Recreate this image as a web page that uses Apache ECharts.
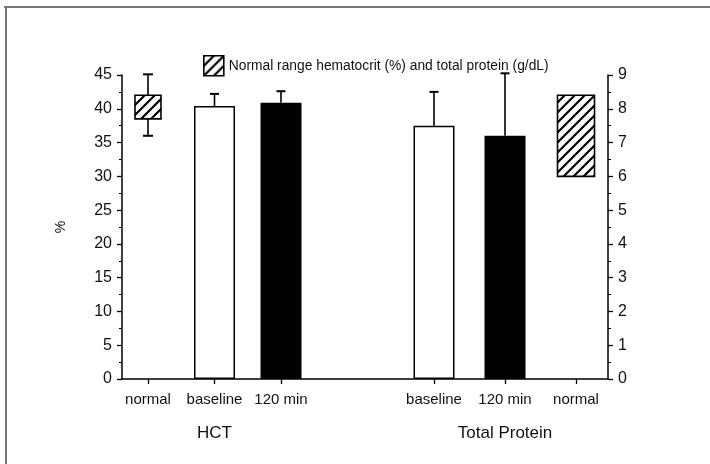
<!DOCTYPE html>
<html>
<head>
<meta charset="utf-8">
<script src="https://cdn.jsdelivr.net/npm/echarts@6/dist/echarts.min.js"></script>
<style>html,body{margin:0;padding:0;background:#fff;}#c{width:710px;height:464px;}</style>
</head>
<body>
<div id="c"></div>
<script>
// ---- data ----
const hctCategories = ['normal', 'baseline', '120 min'];
const hctMeans = [null, 40.4, 40.9];
const hctSD = [null, 1.8, 1.7];
const hctNormalBox = [38.5, 42.0];
const hctNormalWhiskers = [36.0, 45.1];

const tpCategories = ['baseline', '120 min', 'normal'];
const tpMeans = [7.5, 7.2, null];
const tpSD = [1.0, 1.85, null];
const tpNormalBox = [6.0, 8.4];

const leftTickRange = [0, 45, 5];
const rightTickRange = [0, 9, 1];
const NORMAL_NAME = 'Normal range hematocrit (%) and total protein (g/dL)';

// ---- hatch pattern ----
function makeHatch() {
  const s = 10;
  const cv = document.createElement('canvas');
  cv.width = s; cv.height = s;
  const g = cv.getContext('2d');
  g.fillStyle = '#fff'; g.fillRect(0, 0, s, s);
  g.strokeStyle = '#000'; g.lineWidth = 2.2;
  g.beginPath();
  g.moveTo(-2, s + 2); g.lineTo(s + 2, -2);
  g.moveTo(-2, 2); g.lineTo(2, -2);
  g.moveTo(s - 2, s + 2); g.lineTo(s + 2, s - 2);
  g.stroke();
  return cv;
}
const hatch = { image: makeHatch(), repeat: 'repeat' };

const FONT = 'Liberation Sans, Arial, Helvetica, sans-serif';
const INK = '#111';

function barItems(means, styles) {
  return means.map((v, i) => v == null ? null : { value: v, itemStyle: styles[i] });
}
const whiteBar = { color: '#fff', borderColor: '#000', borderWidth: 1.5 };
const blackBar = { color: '#000', borderColor: '#000', borderWidth: 1.5 };

function errData(means, sds) {
  const out = [];
  means.forEach((m, i) => { if (m != null) out.push([i, m, m + sds[i]]); });
  return out;
}

function errRender(params, api) {
  const p0 = api.coord([api.value(0), api.value(1)]);
  const p1 = api.coord([api.value(0), api.value(2)]);
  const cap = 4.5;
  return {
    type: 'group',
    children: [
      { type: 'line', shape: { x1: p0[0], y1: p0[1], x2: p1[0], y2: p1[1] }, style: { stroke: '#000', lineWidth: 1.6 } },
      { type: 'line', shape: { x1: p1[0] - cap, y1: p1[1], x2: p1[0] + cap, y2: p1[1] }, style: { stroke: '#000', lineWidth: 2 } }
    ]
  };
}

function boxRender(width, withWhiskers) {
  return function (params, api) {
    const x = api.value(0);
    const lo = api.coord([x, api.value(1)]);
    const hi = api.coord([x, api.value(2)]);
    const children = [];
    if (withWhiskers) {
      const wl = api.coord([x, api.value(3)]);
      const wh = api.coord([x, api.value(4)]);
      const cap = 5;
      children.push(
        { type: 'line', shape: { x1: wh[0], y1: wh[1], x2: hi[0], y2: hi[1] }, style: { stroke: '#000', lineWidth: 1.6 } },
        { type: 'line', shape: { x1: wh[0] - cap, y1: wh[1], x2: wh[0] + cap, y2: wh[1] }, style: { stroke: '#000', lineWidth: 2 } },
        { type: 'line', shape: { x1: lo[0], y1: lo[1], x2: wl[0], y2: wl[1] }, style: { stroke: '#000', lineWidth: 1.6 } },
        { type: 'line', shape: { x1: wl[0] - cap, y1: wl[1], x2: wl[0] + cap, y2: wl[1] }, style: { stroke: '#000', lineWidth: 2 } }
      );
    }
    children.push({
      type: 'rect',
      shape: { x: hi[0] - width / 2, y: hi[1], width: width, height: lo[1] - hi[1] },
      style: { fill: hatch, stroke: '#000', lineWidth: 1.6 }
    });
    return { type: 'group', children: children };
  };
}

const axisLineStyle = { color: '#000', width: 1.5 };
const catAxis = (gridIndex, data, name) => ({
  type: 'category', gridIndex: gridIndex, data: data,
  axisLine: { show: false },
  axisTick: { show: true, interval: 0, alignWithLabel: true, length: 5, lineStyle: { color: '#000', width: 1.3 } },
  axisLabel: { interval: 0, fontFamily: FONT, fontSize: 15, color: INK, margin: 13, hideOverlap: false },
  splitLine: { show: false },
  name: name, nameLocation: 'middle', nameGap: 46,
  nameTextStyle: { fontFamily: FONT, fontSize: 17, color: INK }
});
const valYAxis = (gridIndex, pos, range, extra) => Object.assign({
  type: 'value', gridIndex: gridIndex, position: pos,
  min: range[0], max: range[1], interval: range[2],
  axisLine: { show: true, lineStyle: axisLineStyle },
  axisTick: { show: true, inside: false, length: 5, lineStyle: { color: '#000', width: 1.3 } },
  minorTick: { show: true, splitNumber: 2, length: 3, lineStyle: { color: '#000', width: 1 } },
  axisLabel: { fontFamily: FONT, fontSize: 16, color: INK, margin: 10 },
  splitLine: { show: false }, minorSplitLine: { show: false }
}, extra || {});
const hiddenY = (gridIndex, range) => ({
  type: 'value', gridIndex: gridIndex, min: range[0], max: range[1], interval: range[2], show: false
});

const option = {
  animation: false,
  backgroundColor: '#fff',
  textStyle: { fontFamily: FONT },
  graphic: [
    { type: 'line', shape: { x1: 4, y1: 7, x2: 710, y2: 7 }, style: { stroke: '#777', lineWidth: 2 } },
    { type: 'line', shape: { x1: 6, y1: 7, x2: 6, y2: 464 }, style: { stroke: '#777', lineWidth: 2 } }
  ],
  legend: {
    left: 198, top: 50, itemWidth: 20, itemHeight: 20, selectedMode: false,
    textStyle: { fontFamily: FONT, fontSize: 13.8, color: INK },
    data: [{ name: NORMAL_NAME, icon: 'rect', itemStyle: { color: hatch, borderColor: '#000', borderWidth: 1.6 } }]
  },
  grid: [
    { left: 122, right: 102, top: 75, bottom: 85 },
    { left: 114.75, width: 199.5, top: 75, bottom: 85 },
    { left: 398.5, width: 213, top: 75, bottom: 85 }
  ],
  xAxis: [
    { type: 'value', gridIndex: 0, min: 0, max: 1, axisLine: { show: true, lineStyle: axisLineStyle },
      axisTick: { show: false }, axisLabel: { show: false }, splitLine: { show: false } },
    catAxis(1, hctCategories, 'HCT'),
    catAxis(2, tpCategories, 'Total Protein')
  ],
  yAxis: [
    valYAxis(0, 'left', leftTickRange, {
      name: '%', nameLocation: 'middle', nameGap: 54, nameRotate: 90,
      nameTextStyle: { fontFamily: FONT, fontSize: 14, color: INK }
    }),
    valYAxis(0, 'right', rightTickRange),
    hiddenY(1, leftTickRange),
    hiddenY(2, rightTickRange)
  ],
  series: [
    { type: 'bar', name: 'HCT', xAxisIndex: 1, yAxisIndex: 2, barWidth: 41,
      data: barItems(hctMeans, [null, whiteBar, blackBar]) },
    { type: 'bar', name: 'Total Protein', xAxisIndex: 2, yAxisIndex: 3, barWidth: 41,
      data: barItems(tpMeans, [whiteBar, blackBar, null]) },
    { type: 'custom', name: 'HCT SD', xAxisIndex: 1, yAxisIndex: 2, renderItem: errRender,
      data: errData(hctMeans, hctSD), z: 3 },
    { type: 'custom', name: 'TP SD', xAxisIndex: 2, yAxisIndex: 3, renderItem: errRender,
      data: errData(tpMeans, tpSD), z: 3 },
    { type: 'custom', name: NORMAL_NAME, xAxisIndex: 1, yAxisIndex: 2, itemStyle: { color: '#000' },
      renderItem: boxRender(26, true),
      data: [[hctCategories.indexOf('normal'), hctNormalBox[0], hctNormalBox[1], hctNormalWhiskers[0], hctNormalWhiskers[1]]] },
    { type: 'custom', name: NORMAL_NAME, xAxisIndex: 2, yAxisIndex: 3, itemStyle: { color: '#000' },
      renderItem: boxRender(37, false),
      data: [[tpCategories.indexOf('normal'), tpNormalBox[0], tpNormalBox[1]]] }
  ]
};

const chart = echarts.init(document.getElementById('c'), null, { renderer: 'canvas' });
chart.setOption(option);
</script>
</body>
</html>
